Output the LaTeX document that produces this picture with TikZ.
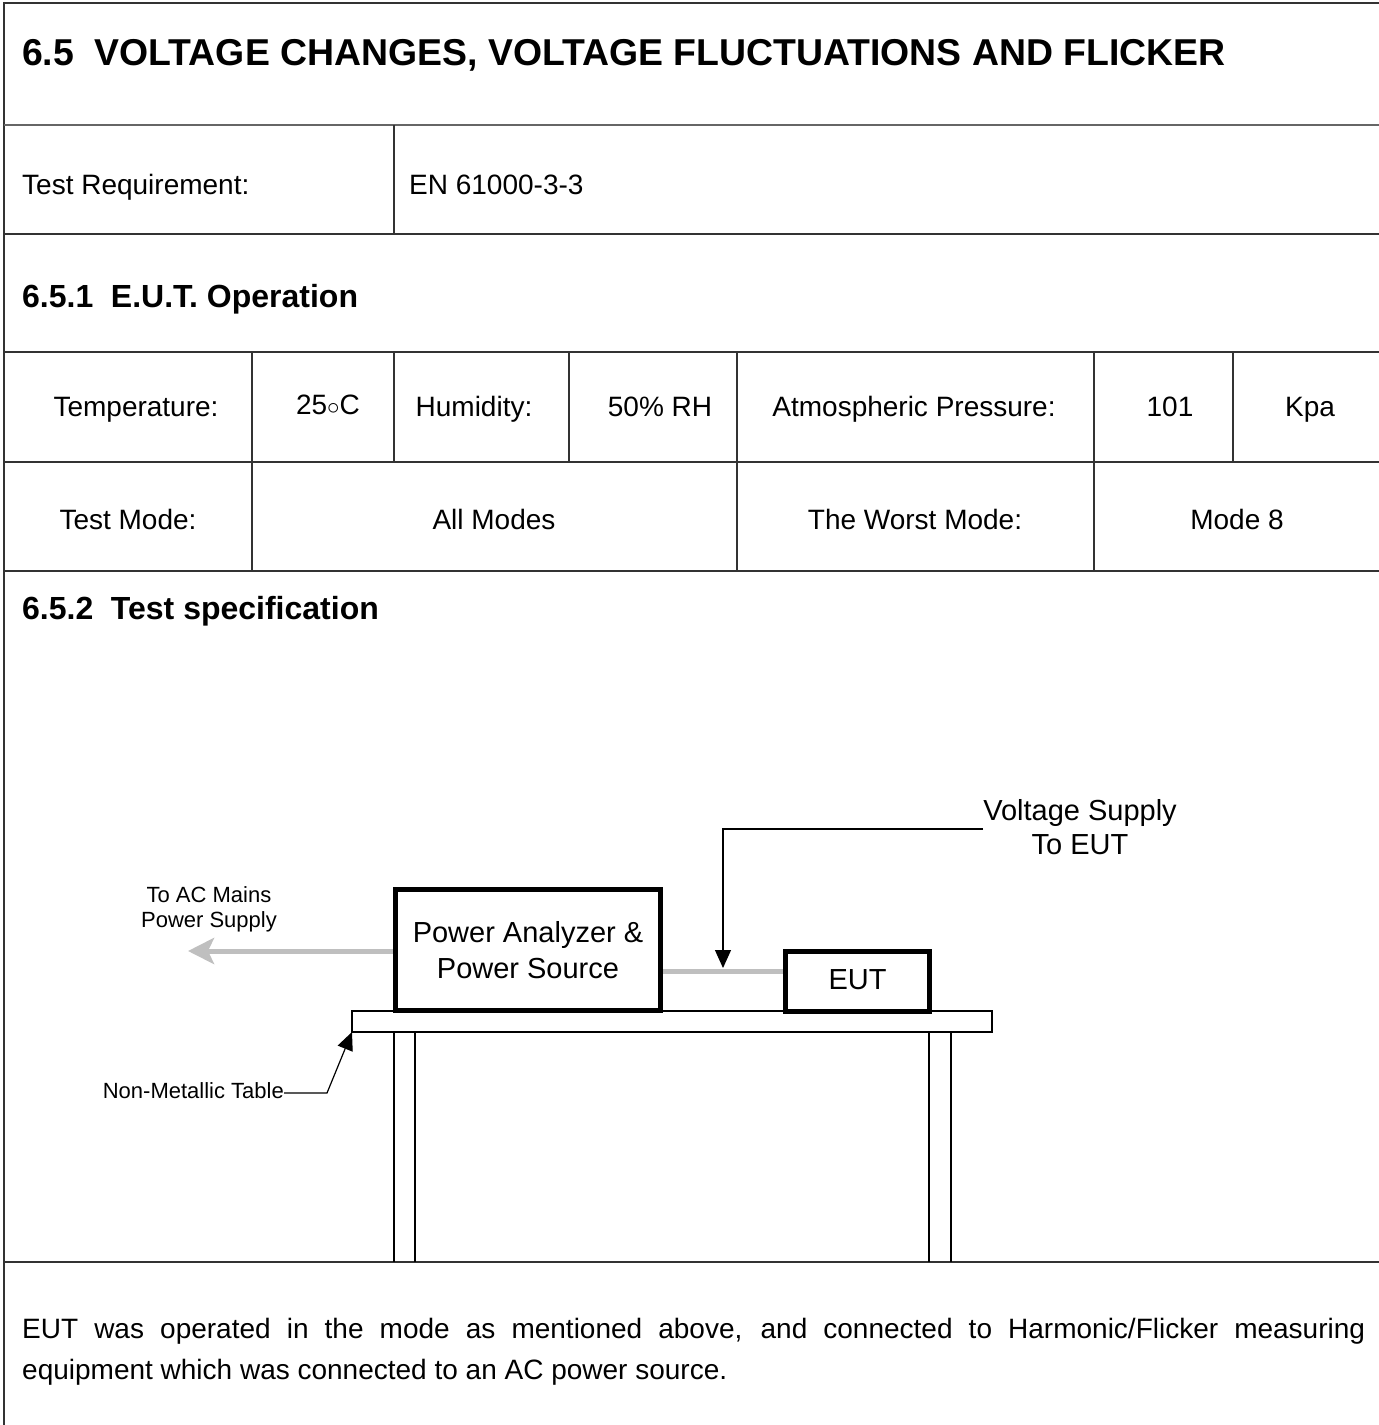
\documentclass[tikz,border=0pt]{standalone}
\usepackage{fontspec}
\setmainfont{Liberation Sans}
\usetikzlibrary{arrows.meta}

\tikzset{
    grid/.style={draw=black!80, line width=1.3pt},
    cell/.style={font=\fontsize{28}{33}\selectfont, inner sep=0pt, text height=20pt, text depth=6pt},
    head/.style={font=\fontsize{32}{38}\selectfont\bfseries, anchor=west, inner sep=0pt, text height=23pt, text depth=7pt},
    unit/.style={draw, line width=5pt, inner sep=0pt},
    lbl/.style={font=\fontsize{29}{34}\selectfont, align=center, inner sep=0pt},
    small/.style={font=\fontsize{22}{25}\selectfont, align=center, inner sep=0pt},
    feed/.style={draw=black!25, line width=5pt},
    callout/.style={draw, line width=1.2pt}
}

\begin{document}
\begin{tikzpicture}[x=1pt, y=-1pt]

        \useasboundingbox (0,0) rectangle (1379,1425);

        % Frame
        \draw[grid] (1379,3) -- (4,3) -- (4,1425);
        \draw[grid, draw=black!60, line width=2.2pt] (4,125) -- (1379,125);
        \draw[grid] (4,234) -- (1379,234);
        \draw[grid] (4,352) -- (1379,352);
        \draw[grid] (4,462) -- (1379,462);
        \draw[grid] (4,571) -- (1379,571);
        \draw[grid] (4,1262) -- (1379,1262);
        \draw[grid] (394,125) -- (394,234);
        \foreach \x in {252,737,1094}
            \draw[grid] (\x,352) -- (\x,571);
        \foreach \x in {394,569,1233}
            \draw[grid] (\x,352) -- (\x,462);

        % Headings
        \node[head, font=\fontsize{37.4}{44}\selectfont\bfseries](title) at (22,57){6.5\hspace{0.55em}VOLTAGE CHANGES, VOLTAGE FLUCTUATIONS AND FLICKER};
        \node[cell, anchor=west](req) at (22,187){Test Requirement:};
        \node[cell, anchor=west](std) at (409,187){EN 61000-3-3};
        \node[head](op) at (22,299){6.5.1\hspace{0.55em}E.U.T. Operation};
        \node[head](spec) at (22,611){6.5.2\hspace{0.55em}Test specification};

        % Conditions
        \node[cell](temp) at (136,409){Temperature:};
        \node[cell](tempVal) at (328,407){25$\circ$C};
        \node[cell](hum) at (474,409){Humidity:};
        \node[cell](humVal) at (660,409){50\% RH};
        \node[cell](pres) at (914,409){Atmospheric Pressure:};
        \node[cell](presVal) at (1170,409){101};
        \node[cell](presUnit) at (1310,409){Kpa};
        \node[cell](mode) at (128,522){Test Mode:};
        \node[cell](modeVal) at (494,522){All Modes};
        \node[cell](worst) at (915,522){The Worst Mode:};
        \node[cell](worstVal) at (1237,522){Mode 8};

        % Table
        \draw[callout] (352,1011) rectangle (992,1032);
        \draw[callout] (394,1032) -- (394,1262);
        \draw[callout] (415,1032) -- (415,1262);
        \draw[callout] (929,1032) -- (929,1262);
        \draw[callout] (951,1032) -- (951,1262);
        \coordinate (tableCorner) at (352,1032);

        % Vertices
        \node[unit, minimum width=265pt, minimum height=121pt](analyzer) at (528,950){};
        \node[lbl](analyzerText) at (528,950){Power Analyzer \&\\[2pt]Power Source};
        \node[unit, minimum width=144pt, minimum height=60pt](eut) at (857.5,981.5){};
        \node[lbl](eutText) at (857.5,980){EUT};
        \node[small](mains) at (209,909){To AC Mains\\Power Supply};
        \node[lbl](supply) at (1080,827){Voltage Supply\\To EUT};
        \node[small, anchor=east](tableText) at (284,1091){Non-Metallic Table};
        \coordinate (mainsEnd) at (188,951);
        \coordinate (feedMid) at (723,971);
        \coordinate (supplyBend) at (723,829);
        \coordinate (supplyTip) at (723,968);
        \coordinate (tableBend) at (327,1093);

        % Edges
        \draw[feed, -{Stealth[length=26pt, width=26pt, inset=6pt]}](analyzer.west |- mainsEnd) -- (mainsEnd);
        \draw[feed](analyzer.east |- feedMid) -- (eut.west |- feedMid);
        \draw[callout, -{Stealth[length=18pt, width=16pt, inset=0pt]}](supply.west |- supplyBend) -- (supplyBend) -- (supplyTip);
        \draw[callout, -{Stealth[length=18pt, width=16pt, inset=0pt]}](tableText.east |- tableBend) -- (tableBend) -- (tableCorner);

        % Note
        \node[font=\fontsize{28}{41}\selectfont, inner sep=0pt, anchor=north west, text width=1343pt, align=justify](note) at (22,1318){EUT was operated in the mode as mentioned above, and connected to Harmonic/Flicker measuring\linebreak equipment which was connected to an AC power source.};

    \end{tikzpicture}
\end{document}
